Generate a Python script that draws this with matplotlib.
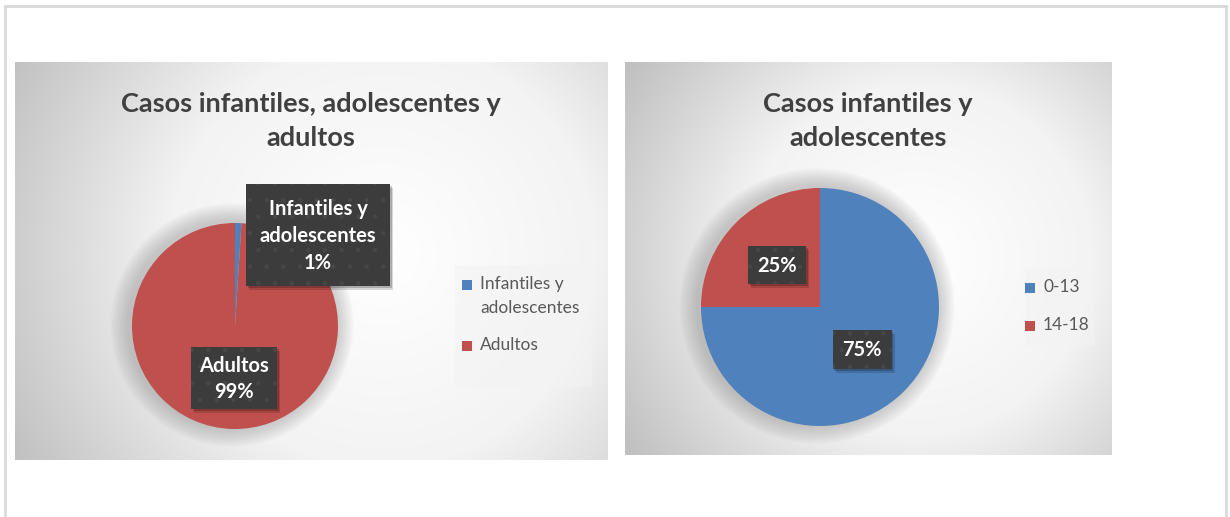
import matplotlib
matplotlib.use("Agg")
import matplotlib.pyplot as plt
from matplotlib.patches import Rectangle, Circle
from matplotlib.colors import LinearSegmentedColormap
import numpy as np

plt.rcParams['font.family'] = ['Lato', 'DejaVu Sans']
plt.rcParams['hatch.color'] = '#474747'
plt.rcParams['hatch.linewidth'] = 0.8

W, H = 1230, 517

# data
left_title = "Casos infantiles, adolescentes y\nadultos"
left_labels = ["Infantiles y\nadolescentes", "Adultos"]
left_values = [1, 99]

right_title = "Casos infantiles y\nadolescentes"
right_labels = ["0-13", "14-18"]
right_values = [75, 25]

colors = ["#4F81BD", "#C0504D"]
title_color = "#404040"
legend_color = "#595959"
box_color = "#3c3c3c"


def frac(x0, y0, x1, y1):
    # pixel box (top-left origin) -> figure fraction [l, b, w, h]
    return [x0 / W, 1 - y1 / H, (x1 - x0) / W, (y1 - y0) / H]


def pixel_axes(z):
    ax = fig.add_axes([0, 0, 1, 1], zorder=z)
    ax.set_xlim(0, W)
    ax.set_ylim(H, 0)
    ax.axis("off")
    ax.patch.set_alpha(0)
    return ax


fig = plt.figure(figsize=(W / 100, H / 100), dpi=100)
fig.patch.set_facecolor("white")

grad_cmap = LinearSegmentedColormap.from_list("g", ["#ffffff", "#f3f3f3", "#bfbfbf"])


def panel(x0, y0, x1, y1, cxf, cyf):
    ax = fig.add_axes(frac(x0, y0, x1, y1), zorder=0)
    nx, ny = x1 - x0, y1 - y0
    xx, yy = np.meshgrid(np.arange(nx), np.arange(ny))
    cx, cy = cxf * nx, cyf * ny
    d = np.sqrt(((xx - cx) / (0.72 * nx)) ** 2 + ((yy - cy) / (0.72 * nx)) ** 2)
    ax.imshow(np.clip(d, 0, 1), cmap=grad_cmap, vmin=0, vmax=1,
              extent=[0, nx, ny, 0], aspect="auto", interpolation="bilinear")
    ax.axis("off")
    return ax


panel(15, 62, 608, 460, 0.62, 0.48)
panel(625, 62, 1112, 455, 0.6, 0.5)

# outer frame + pie halos
under = pixel_axes(1)
under.plot([5, 1226], [6, 6], color="#d9d9d9", lw=2)
under.plot([5, 5], [6, H], color="#d9d9d9", lw=2)
under.plot([1226, 1226], [6, H], color="#d9d9d9", lw=2)


def pie(cx, cy, r, values):
    for i in range(12):
        under.add_patch(Circle((cx - 3, cy - 1), r + 2 + i * 1.5, color="#8a8a8a",
                               alpha=0.04, lw=0))
    ax = fig.add_axes(frac(cx - r, cy - r, cx + r, cy + r), zorder=2)
    ax.pie(values, colors=colors, startangle=90, counterclock=False,
           radius=1, wedgeprops=dict(linewidth=0))
    ax.set_xlim(-1, 1)
    ax.set_ylim(-1, 1)
    ax.axis("off")
    return ax


pie(235, 326, 103, left_values)
pie(820, 307, 119, right_values)

top = pixel_axes(3)


def data_label(cx, cy, w, h, text):
    top.add_patch(Rectangle((cx - w / 2 + 3, cy - h / 2 + 4), w, h, color="black",
                            alpha=0.15, lw=0))
    top.add_patch(Rectangle((cx - w / 2 + 1.5, cy - h / 2 + 2), w, h, color="black",
                            alpha=0.2, lw=0))
    top.add_patch(Rectangle((cx - w / 2, cy - h / 2), w, h, facecolor=box_color,
                            hatch=".", lw=0))
    top.text(cx, cy + 1, text, ha="center", va="center", color="white",
             fontsize=14.5, fontweight="bold", linespacing=1.42)


def legend(x0, y0, x1, y1, entries):
    top.add_patch(Rectangle((x0, y0), x1 - x0, y1 - y0, color="#f3f3f3",
                            alpha=0.55, lw=0))
    for (mx, my, lab, col) in entries:
        top.add_patch(Rectangle((mx - 5, my - 5), 10, 10, color=col, lw=0))
        top.text(mx + 13, my - 9, lab, ha="left", va="top", color=legend_color,
                 fontsize=12.5, linespacing=1.65)


# titles
top.text(311, 121, left_title, ha="center", va="center", color=title_color,
         fontsize=19.5, fontweight="bold", linespacing=1.45)
top.text(868, 121, right_title, ha="center", va="center", color=title_color,
         fontsize=19.5, fontweight="bold", linespacing=1.45)

# legends
legend(455, 265, 592, 387,
       [(467, 285, left_labels[0], colors[0]), (467, 346, left_labels[1], colors[1])])
legend(1025, 268, 1095, 346,
       [(1030, 288, right_labels[0], colors[0]), (1030, 326, right_labels[1], colors[1])])

# data labels
lbl = [f"{n}\n{v}%" for n, v in zip(left_labels, left_values)]
data_label(318, 235, 144, 102, lbl[0])
data_label(234, 378, 86, 62, lbl[1])
data_label(777, 265, 58, 38, f"{right_values[1]}%")
data_label(862, 349, 59, 39, f"{right_values[0]}%")

fig.savefig("out.png", dpi=100)
